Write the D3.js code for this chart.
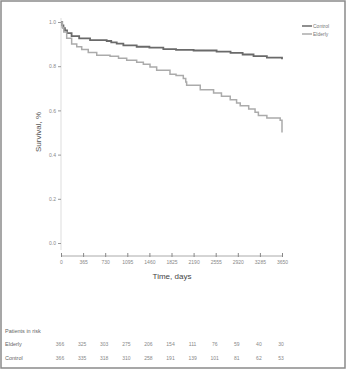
<!DOCTYPE html>
<html>
<head>
<meta charset="utf-8">
<script src="https://cdn.jsdelivr.net/npm/d3@7"></script>
<style>
  body { margin: 0; background: #fff; }
  text { font-family: "Liberation Sans", Arial, sans-serif; }
</style>
</head>
<body>
<svg id="chart" width="349" height="370"></svg>
<script>
// ticks on the time axis, in days
const dayTicks = [0, 365, 730, 1095, 1460, 1825, 2190, 2555, 2920, 3285, 3650];
const survTicks = [0.0, 0.2, 0.4, 0.6, 0.8, 1.0];

// Kaplan-Meier steps
const controlDays = [0, 20, 40, 65, 100, 175, 300, 480, 755, 830, 920, 1030, 1250, 1460, 1690, 1900, 2190, 2570, 2800, 3000, 3180, 3400, 3650];
const controlSurv = [1.0, 0.985, 0.972, 0.962, 0.950, 0.936, 0.926, 0.918, 0.914, 0.908, 0.902, 0.894, 0.888, 0.884, 0.877, 0.874, 0.871, 0.866, 0.860, 0.853, 0.846, 0.839, 0.831];
const elderlyDays = [0, 20, 45, 94, 176, 260, 342, 450, 590, 810, 950, 1085, 1250, 1360, 1470, 1580, 1800, 1900, 2020, 2060, 2075, 2300, 2520, 2650, 2795, 2900, 2960, 3100, 3205, 3260, 3400, 3620, 3650];
const elderlySurv = [1.0, 0.975, 0.955, 0.926, 0.900, 0.888, 0.876, 0.862, 0.850, 0.845, 0.836, 0.827, 0.818, 0.809, 0.796, 0.782, 0.764, 0.758, 0.744, 0.728, 0.714, 0.694, 0.679, 0.664, 0.648, 0.634, 0.621, 0.606, 0.592, 0.577, 0.566, 0.555, 0.500];

const seriesNames = ["Control", "Elderly"];
const seriesColors = ["#6a6a6a", "#ababab"];

// patients at risk at each tick
const riskElderly = [366, 325, 303, 275, 206, 154, 111, 76, 59, 40, 30];
const riskControl = [366, 335, 318, 310, 258, 191, 139, 101, 81, 62, 53];

const svg = d3.select("#chart");

// frame round the figure
svg.append("rect")
    .attr("x", 1).attr("y", 1)
    .attr("width", 344).attr("height", 367)
    .attr("fill", "none")
    .attr("stroke", "#8a8a8a")
    .attr("stroke-width", 1.5);

const x = d3.scaleLinear().domain([0, 3650]).range([61, 282]);
const y = d3.scaleLinear().domain([0, 1]).range([243, 22]);

// y axis
const yAxis = svg.append("g")
    .attr("transform", "translate(61,0)")
    .call(d3.axisLeft(y).tickValues(survTicks).tickFormat(d3.format(".1f")).tickSize(3).tickPadding(2));
yAxis.select(".domain").attr("d", "M0,18V250").attr("stroke", "#ddd");
yAxis.selectAll(".tick line").attr("stroke", "#999");
yAxis.selectAll(".tick text").attr("fill", "#888").style("font-size", "5px");

// x axis
const xAxis = svg.append("g")
    .attr("transform", "translate(0,256)")
    .call(d3.axisBottom(x).tickValues(dayTicks).tickFormat(d3.format("d")).tickSize(3).tickPadding(2));
xAxis.select(".domain").attr("stroke", "#aaa").attr("d", "M61,0H282");
xAxis.selectAll(".tick line").attr("stroke", "#888").attr("y1", -3).attr("y2", 1);
xAxis.selectAll(".tick text").attr("fill", "#888").style("font-size", "5px").attr("y", 4);

svg.append("text")
    .attr("x", 172).attr("y", 279)
    .attr("text-anchor", "middle")
    .attr("fill", "#444")
    .style("font-size", "8px")
    .text("Time, days");

svg.append("text")
    .attr("transform", "translate(41,132) rotate(-90)")
    .attr("text-anchor", "middle")
    .attr("fill", "#555")
    .style("font-size", "8px")
    .text("Survival, %");

// survival curves
const line = d3.line()
    .x(d => x(d[0]))
    .y(d => y(d[1]))
    .curve(d3.curveStepAfter);

const curves = [d3.zip(controlDays, controlSurv), d3.zip(elderlyDays, elderlySurv)];
curves.forEach((pts, i) => {
    svg.append("path")
        .datum(pts)
        .attr("d", line)
        .attr("fill", "none")
        .attr("stroke", seriesColors[i])
        .attr("stroke-width", i === 0 ? 1.8 : 1.5);
});

// legend
seriesNames.forEach((name, i) => {
    const ly = 26 + i * 8;
    svg.append("line")
        .attr("x1", 302).attr("x2", 312)
        .attr("y1", ly).attr("y2", ly)
        .attr("stroke", seriesColors[i])
        .attr("stroke-width", 1.5);
    svg.append("text")
        .attr("x", 313).attr("y", ly + 2)
        .attr("fill", "#777")
        .style("font-size", "5px")
        .text(name);
});

// patients in risk table
svg.append("text")
    .attr("x", 5).attr("y", 333)
    .attr("fill", "#666")
    .style("font-size", "5.5px")
    .text("Patients in risk");

const rows = [["Elderly", riskElderly, 346], ["Control", riskControl, 360]];
rows.forEach(([label, vals, ry]) => {
    svg.append("text")
        .attr("x", 5).attr("y", ry)
        .attr("fill", "#666")
        .style("font-size", "5.5px")
        .text(label);
    svg.selectAll(null)
        .data(vals)
        .enter()
        .append("text")
        .attr("x", (d, i) => x(dayTicks[i]) - 1)
        .attr("y", ry)
        .attr("text-anchor", "middle")
        .attr("fill", "#888")
        .style("font-size", "5px")
        .text(d => d);
});
</script>
</body>
</html>
